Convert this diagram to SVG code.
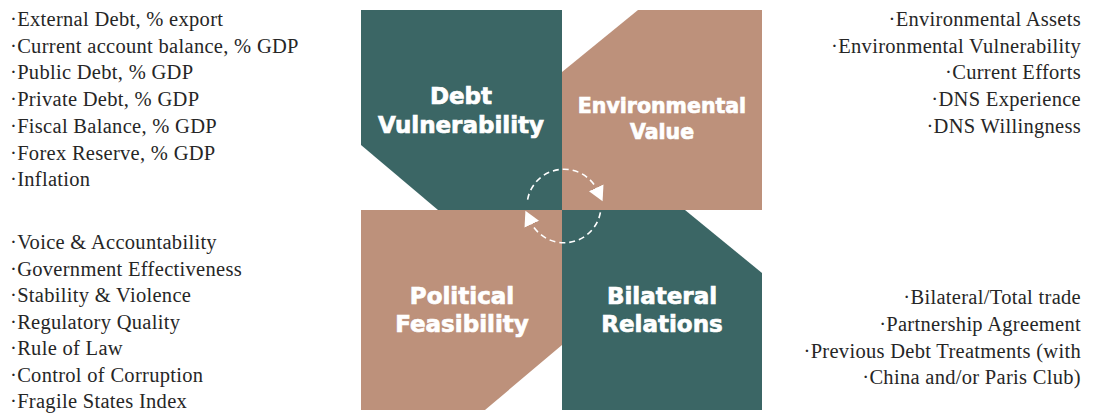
<svg xmlns="http://www.w3.org/2000/svg" width="1096" height="415" viewBox="0 0 1096 415">
  <style>
    .teal { fill: #3b6665; }
    .tan { fill: #bd917b; }
    .title { font-family: "DejaVu Sans", "Liberation Sans", sans-serif; font-weight: bold; fill: #ffffff; stroke: #ffffff; stroke-width: 0.7px; text-anchor: middle; font-size: 23px; }
    .title.small { font-size: 20.5px; }
    .item { font-family: "Liberation Serif", "Times New Roman", serif; font-size: 20.5px; fill: #262626; letter-spacing: 0.3px; }
    .right { text-anchor: end; }
    .cycle { fill: none; stroke: #ffffff; stroke-width: 1.6; stroke-dasharray: 6 4; }
  </style>
  <defs>
    <marker id="head" markerUnits="userSpaceOnUse" markerWidth="18" markerHeight="18" refX="3" refY="8" orient="auto">
      <path d="M0,0 L15,8 L0,16 Z" fill="#ffffff" stroke="none"/>
    </marker>
  </defs>

  <rect width="1096" height="415" fill="#ffffff"/>

  <!-- quadrant: debt vulnerability -->
  <g id="debt-vulnerability">
    <polygon class="teal" points="361,10 562,10 562,210 438,210 361,145"/>
    <text class="title" x="461" y="104">Debt</text>
    <text class="title" x="461" y="133">Vulnerability</text>
  </g>

  <!-- quadrant: environmental value -->
  <g id="environmental-value">
    <polygon class="tan" points="638,10 762,10 762,210 562,210 562,72"/>
    <text class="title small" x="662" y="113">Environmental</text>
    <text class="title small" x="662" y="139">Value</text>
  </g>

  <!-- quadrant: political feasibility -->
  <g id="political-feasibility">
    <polygon class="tan" points="361,210 562,210 562,345 485,410 361,410"/>
    <text class="title" x="462" y="304">Political</text>
    <text class="title" x="462" y="332">Feasibility</text>
  </g>

  <!-- quadrant: bilateral relations -->
  <g id="bilateral-relations">
    <polygon class="teal" points="562,210 685,210 762,273 762,410 562,410"/>
    <text class="title" x="662" y="304">Bilateral</text>
    <text class="title" x="662" y="332">Relations</text>
  </g>

  <!-- dashed cycle arrows in the centre -->
  <g id="connectors">
    <path class="cycle" d="M527.6,199.6 A37,37 0 0 1 597.5,190.5" marker-end="url(#head)"/>
    <path class="cycle" d="M600.4,212.4 A37,37 0 0 1 530.5,221.5" marker-end="url(#head)"/>
  </g>

  <!-- indicator lists -->
  <g id="debt-indicators">
    <text class="item" x="10" y="26">·External Debt, % export</text>
    <text class="item" x="10" y="52.7">·Current account balance, % GDP</text>
    <text class="item" x="10" y="79.4">·Public Debt, % GDP</text>
    <text class="item" x="10" y="106">·Private Debt, % GDP</text>
    <text class="item" x="10" y="132.8">·Fiscal Balance, % GDP</text>
    <text class="item" x="10" y="159.5">·Forex Reserve, % GDP</text>
    <text class="item" x="10" y="186.2">·Inflation</text>
  </g>

  <g id="environmental-indicators">
    <text class="item right" x="1081" y="26">·Environmental Assets</text>
    <text class="item right" x="1081" y="52.7">·Environmental Vulnerability</text>
    <text class="item right" x="1081" y="79.4">·Current Efforts</text>
    <text class="item right" x="1081" y="106">·DNS Experience</text>
    <text class="item right" x="1081" y="132.8">·DNS Willingness</text>
  </g>

  <g id="political-indicators">
    <text class="item" x="10" y="249">·Voice &amp; Accountability</text>
    <text class="item" x="10" y="275.5">·Government Effectiveness</text>
    <text class="item" x="10" y="302">·Stability &amp; Violence</text>
    <text class="item" x="10" y="328.5">·Regulatory Quality</text>
    <text class="item" x="10" y="355">·Rule of Law</text>
    <text class="item" x="10" y="381.5">·Control of Corruption</text>
    <text class="item" x="10" y="408">·Fragile States Index</text>
  </g>

  <g id="bilateral-indicators">
    <text class="item right" x="1081" y="304">·Bilateral/Total trade</text>
    <text class="item right" x="1081" y="331">·Partnership Agreement</text>
    <text class="item right" x="1081" y="358">·Previous Debt Treatments (with</text>
    <text class="item right" x="1081" y="384">·China and/or Paris Club)</text>
  </g>
</svg>
